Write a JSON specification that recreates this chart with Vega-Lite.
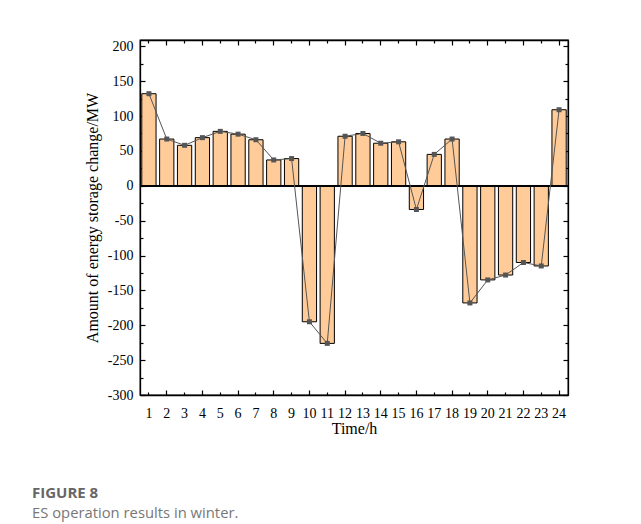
{
  "$schema": "https://vega.github.io/schema/vega-lite/v6.json",
  "width": 428,
  "height": 355,
  "autosize": {"type": "none"},
  "padding": {"left": 140, "top": 40, "right": 73, "bottom": 129},
  "background": "white",
  "config": {
    "view": {"stroke": "black", "strokeWidth": 1.3},
    "font": "Liberation Serif",
    "axis": {"grid": false, "domainColor": "black", "domainWidth": 1.3, "tickColor": "black", "tickWidth": 1.2, "labelColor": "black", "titleColor": "black", "labelFont": "Liberation Serif", "titleFont": "Liberation Serif", "labelFontSize": 14, "titleFontSize": 16, "titleFontWeight": "normal"}
  },
  "title": {
    "text": "FIGURE 8",
    "subtitle": "ES operation results in winter.",
    "orient": "bottom",
    "anchor": "start",
    "frame": "group",
    "dx": -108,
    "offset": 50,
    "font": "Open Sans",
    "fontSize": 15,
    "fontWeight": "bold",
    "color": "#666666",
    "subtitleFont": "Open Sans",
    "subtitleFontSize": 14.8,
    "subtitleColor": "#777777",
    "subtitlePadding": 5
  },
  "data": {
    "values": [
      {"hour": 1, "value": 132},
      {"hour": 2, "value": 67},
      {"hour": 3, "value": 58},
      {"hour": 4, "value": 69},
      {"hour": 5, "value": 78},
      {"hour": 6, "value": 74},
      {"hour": 7, "value": 66},
      {"hour": 8, "value": 37},
      {"hour": 9, "value": 39},
      {"hour": 10, "value": -195},
      {"hour": 11, "value": -226},
      {"hour": 12, "value": 71},
      {"hour": 13, "value": 75},
      {"hour": 14, "value": 61},
      {"hour": 15, "value": 63},
      {"hour": 16, "value": -34},
      {"hour": 17, "value": 45},
      {"hour": 18, "value": 67},
      {"hour": 19, "value": -168},
      {"hour": 20, "value": -135},
      {"hour": 21, "value": -128},
      {"hour": 22, "value": -110},
      {"hour": 23, "value": -115},
      {"hour": 24, "value": 109}
    ]
  },
  "layer": [
    {
      "mark": {"type": "bar", "fill": "#FFCC99", "stroke": "black", "strokeWidth": 1},
      "encoding": {
        "x": {
          "field": "hour", "type": "ordinal",
          "scale": {"paddingInner": 0.2, "paddingOuter": 0.1},
          "axis": {
            "orient": "bottom", "title": "Time/h", "labelAngle": 0,
            "tickSize": {"condition": {"test": "datum.value % 2 === 0", "value": -5}, "value": -3},
            "labelPadding": {"condition": {"test": "datum.value % 2 === 0", "value": 16}, "value": 14},
            "titlePadding": 0
          }
        },
        "y": {
          "field": "value", "type": "quantitative",
          "scale": {"domain": [-300, 209], "nice": false, "zero": false},
          "axis": {
            "orient": "left", "title": "Amount of energy storage change/MW",
            "values": [-300, -275, -250, -225, -200, -175, -150, -125, -100, -75, -50, -25, 0, 25, 50, 75, 100, 125, 150, 175, 200],
            "labelExpr": "datum.value % 50 === 0 ? '' + datum.value : ''",
            "tickSize": {"condition": {"test": "datum.value % 50 === 0", "value": -5}, "value": -3},
            "labelPadding": 12, "titlePadding": 7
          }
        }
      }
    },
    {
      "mark": {"type": "rule", "color": "black", "strokeWidth": 1.2},
      "encoding": {"y": {"datum": 0, "type": "quantitative", "axis": null}}
    },
    {
      "mark": {"type": "line", "color": "#555555", "strokeWidth": 1, "point": {"shape": "square", "filled": true, "size": 25, "color": "#555555"}},
      "encoding": {
        "x": {
          "field": "hour", "type": "ordinal",
          "axis": {
            "orient": "top", "title": null, "labels": false,
            "tickSize": {"condition": {"test": "datum.value % 2 === 0", "value": -5}, "value": -3}
          }
        },
        "y": {
          "field": "value", "type": "quantitative",
          "axis": {
            "orient": "right", "title": null, "labels": false,
            "values": [-300, -275, -250, -225, -200, -175, -150, -125, -100, -75, -50, -25, 0, 25, 50, 75, 100, 125, 150, 175, 200],
            "tickSize": {"condition": {"test": "datum.value % 50 === 0", "value": -5}, "value": -3}
          }
        }
      }
    }
  ],
  "resolve": {"axis": {"x": "independent", "y": "independent"}}
}
